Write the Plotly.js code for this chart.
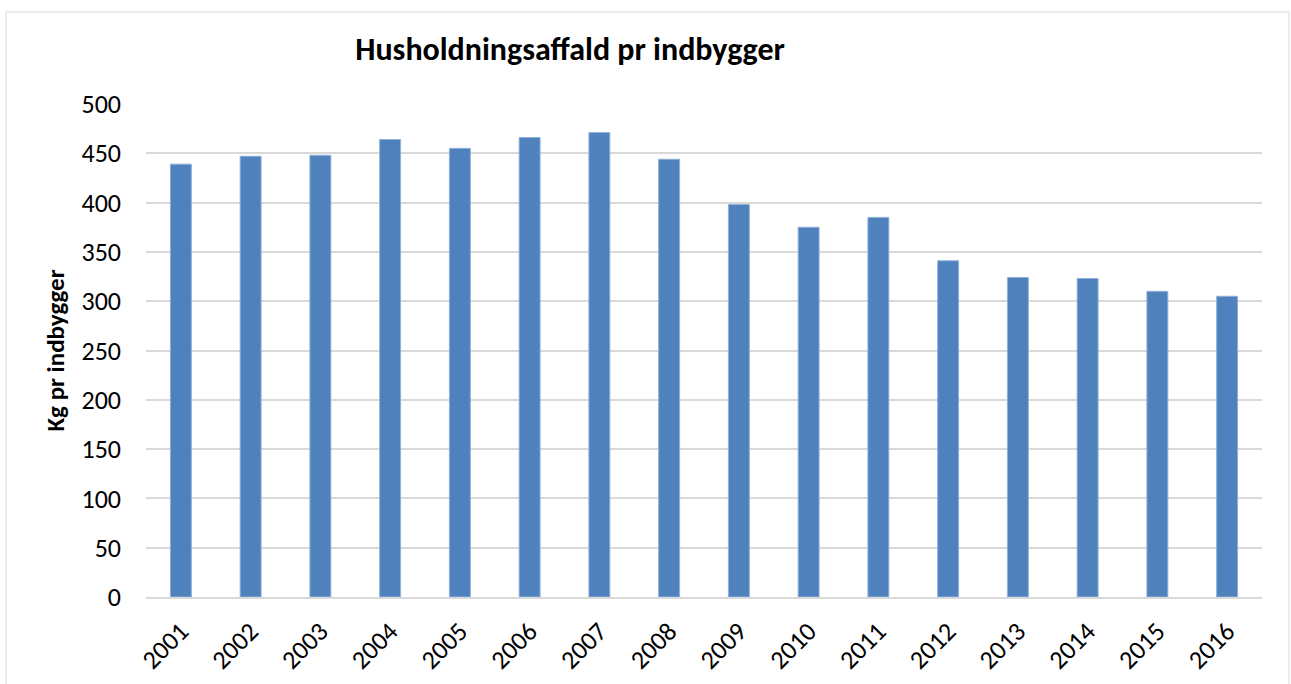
<!DOCTYPE html>
<html>
<head>
<meta charset="utf-8">
<script src="https://cdn.plot.ly/plotly-3.0.1.min.js"></script>
<style>
  html, body { margin: 0; padding: 0; background: #ffffff; }
  #chart { width: 1291px; height: 684px; }
</style>
</head>
<body>
<div id="chart"></div>
<script>
const years = ["2001","2002","2003","2004","2005","2006","2007","2008","2009","2010","2011","2012","2013","2014","2015","2016"];
const kgPerResident = [439, 447, 448, 464, 455, 466, 471, 444, 398, 375, 385, 341, 324, 323, 310, 305];
const yTicks = [0, 50, 100, 150, 200, 250, 300, 350, 400, 450, 500];

const chartTitle = "Husholdningsaffald pr indbygger";
const yTitle = "Kg pr indbygger";

const FONT = "Carlito, Calibri, Lato, 'Open Sans', sans-serif";

const trace = {
  type: "bar",
  x: years,
  y: kgPerResident,
  marker: { color: "#4f81bd", line: { color: "#8fb0d8", width: 1 } },
  hoverinfo: "x+y"
};

const layout = {
  width: 1291,
  height: 684,
  margin: { l: 146, r: 29, t: 104, b: 87 },
  paper_bgcolor: "#ffffff",
  plot_bgcolor: "#ffffff",
  bargap: 0.7,
  showlegend: false,
  font: { family: FONT, color: "#000000" },
  title: {
    text: "<b>" + chartTitle + "</b>",
    font: { family: FONT, size: 32, color: "#000000" },
    xref: "paper", x: 0.38, xanchor: "center",
    yref: "container", y: 0.928, yanchor: "middle"
  },
  xaxis: {
    type: "category",
    tickangle: -45,
    tickfont: { family: FONT, size: 26, color: "#000000" },
    showgrid: false,
    showline: true,
    linecolor: "#d9d9d9",
    linewidth: 1.5,
    ticks: "",
    ticklabelstandoff: 7,
    fixedrange: true
  },
  yaxis: {
    range: [0, 500],
    tickvals: yTicks,
    ticktext: yTicks.map(String),
    tickfont: { family: FONT, size: 26, color: "#000000" },
    showgrid: true,
    gridcolor: "#d9d9d9",
    gridwidth: 1.5,
    zeroline: false,
    showline: false,
    ticks: "",
    ticklabelstandoff: 24,
    title: {
      text: "<b>" + yTitle + "</b>",
      font: { family: FONT, size: 25, color: "#000000" },
      standoff: 9
    },
    fixedrange: true
  },
  shapes: [
    {
      type: "rect",
      xref: "paper", yref: "paper",
      x0: -0.1254, x1: 1.0242, y0: -0.19, y1: 1.1866,
      line: { color: "#d9d9d9", width: 1 },
      fillcolor: "rgba(0,0,0,0)",
      layer: "below"
    }
  ]
};

Plotly.newPlot("chart", [trace], layout, { displayModeBar: false, staticPlot: false });
</script>
</body>
</html>
